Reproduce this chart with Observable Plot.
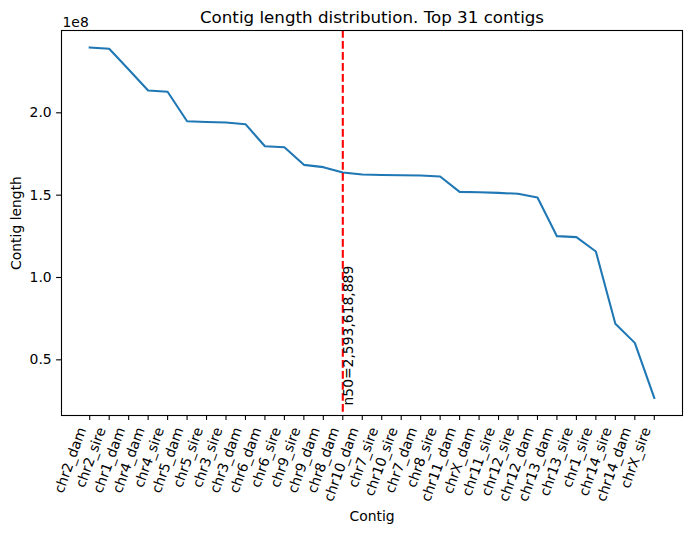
<!DOCTYPE html>
<html>
<head>
<meta charset="utf-8">
<script src="https://cdn.jsdelivr.net/npm/d3@7"></script>
<script src="https://cdn.jsdelivr.net/npm/@observablehq/plot@0.6"></script>
<style>
  html, body { margin: 0; padding: 0; background: #fff; }
  #chart svg { display: block; }
</style>
</head>
<body>
<div id="chart"></div>
<script>
const contigs = ["chr2_dam","chr2_sire","chr1_dam","chr4_dam","chr4_sire","chr5_dam","chr5_sire","chr3_sire","chr3_dam","chr6_dam","chr6_sire","chr9_sire","chr9_dam","chr8_dam","chr10_dam","chr7_sire","chr10_sire","chr7_dam","chr8_sire","chr11_dam","chrX_dam","chr11_sire","chr12_sire","chr12_dam","chr13_dam","chr13_sire","chr1_sire","chr14_sire","chr14_dam","chrX_sire"];
const lengths = [239700000,238900000,226300000,213500000,212800000,194900000,194400000,194100000,193100000,179700000,179100000,168400000,167000000,163700000,162500000,162200000,162100000,161900000,161300000,152000000,151800000,151400000,150800000,148600000,125100000,124500000,115800000,71900000,60300000,26900000];
const yTicks = [0.5e8, 1.0e8, 1.5e8, 2.0e8];
const n50Contig = "chr8_dam";
const n50Label = "n50=2,593,618,889";
const titleText = "Contig length distribution. Top 31 contigs";
const xLabel = "Contig";
const yLabel = "Contig length";
const expLabel = "1e8";

const data = contigs.map((c, i) => ({contig: c, length: lengths[i]}));

const chart = Plot.plot({
  width: 691,
  height: 533,
  marginLeft: 61,
  marginRight: 9,
  marginTop: 30,
  marginBottom: 118,
  style: {fontFamily: "DejaVu Sans", fontSize: "13.9px", background: "#fff", color: "#000", overflow: "visible"},
  x: {type: "point", domain: contigs, padding: 1.45, round: false},
  y: {domain: [0.162e8, 2.4998e8]},
  marks: [
    Plot.line(data, {x: "contig", y: "length", stroke: "#1f77b4", strokeWidth: 2.08, strokeLinejoin: "round", strokeLinecap: "square"}),
    Plot.ruleX([n50Contig], {stroke: "#ff0000", strokeWidth: 2.08, strokeDasharray: "7.7,3.3"}),
    Plot.text([n50Label], {x: () => n50Contig, text: d => d, frameAnchor: "bottom", rotate: -90, textAnchor: "start", lineAnchor: "middle", dx: 6, dy: -10, fill: "#000"}),
    Plot.frame({stroke: "#000", strokeWidth: 1.1}),
    Plot.axisY({ticks: yTicks, tickFormat: d => (d / 1e8).toFixed(1), tickSize: 4.9, tickPadding: 4.9, strokeWidth: 1.1, label: null}),
    Plot.axisX({tickSize: 4.9, strokeWidth: 1.1, text: null, label: null}),
    Plot.text(contigs, {x: d => d, text: d => d, frameAnchor: "bottom", rotate: -70, textAnchor: "end", lineAnchor: "middle", dx: -7.5, dy: 12.4, fill: "#000"}),
    Plot.text([xLabel], {text: d => d, frameAnchor: "bottom", lineAnchor: "middle", dy: 101, fill: "#000"}),
    Plot.text([yLabel], {text: d => d, frameAnchor: "left", rotate: -90, textAnchor: "middle", lineAnchor: "middle", dx: -45, fill: "#000"}),
    Plot.text([titleText], {text: d => d, frameAnchor: "top", lineAnchor: "middle", dy: -13, fontSize: 16.7, fill: "#000"}),
    Plot.text([expLabel], {text: d => d, frameAnchor: "top-left", textAnchor: "start", lineAnchor: "bottom", dx: 1, dy: -4, fill: "#000"})
  ]
});
document.getElementById("chart").appendChild(chart);
</script>
</body>
</html>
